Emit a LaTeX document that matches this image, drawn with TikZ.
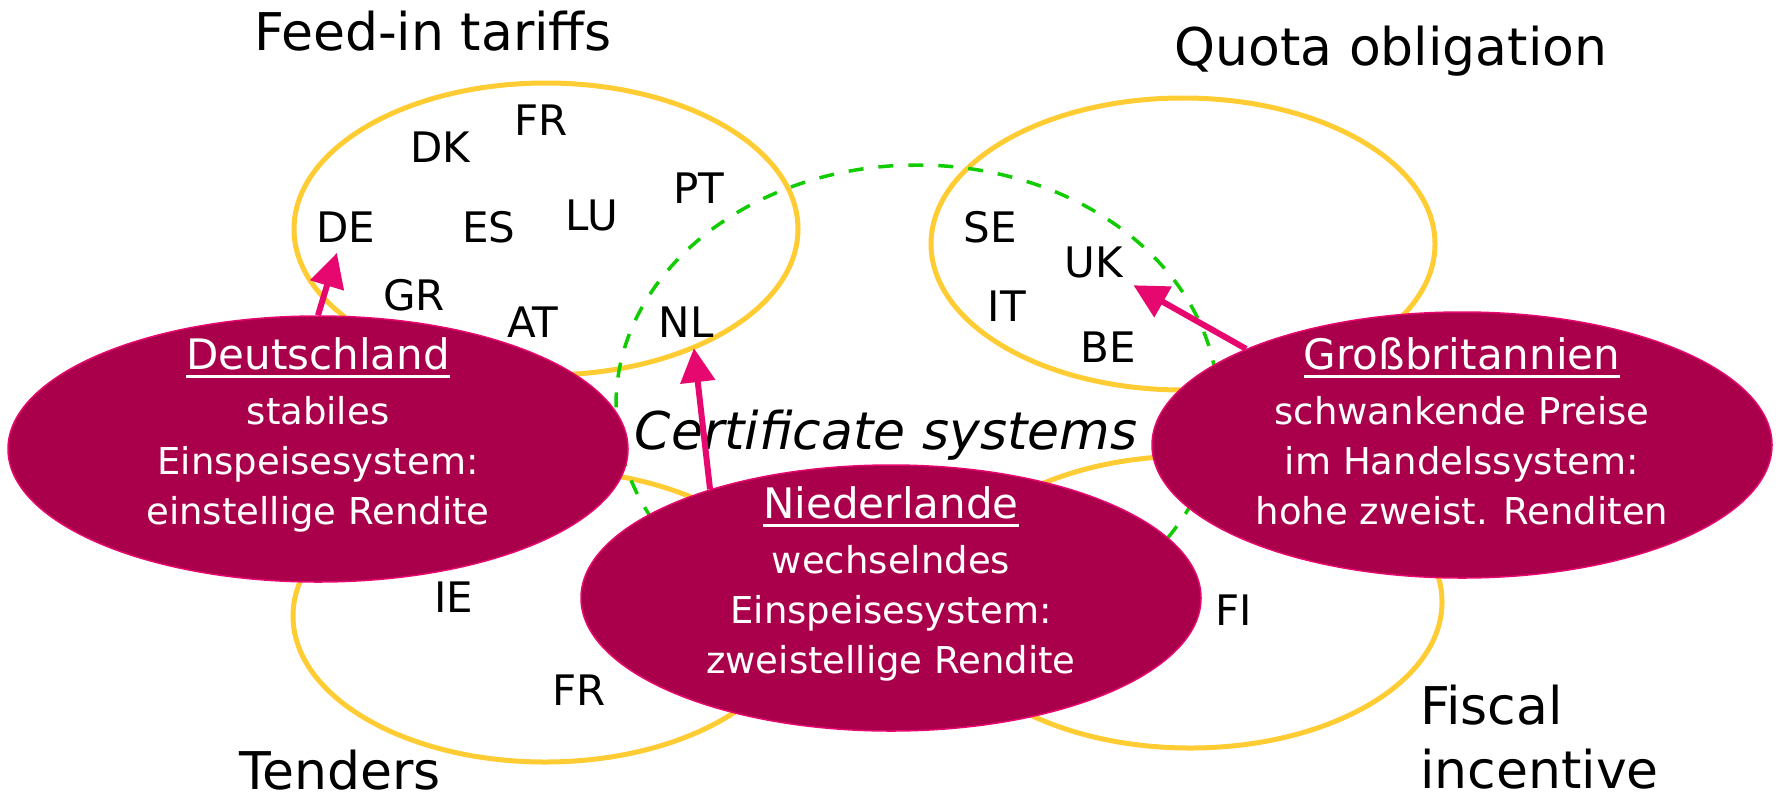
\documentclass[tikz,border=0pt]{standalone}
\usepackage{fontspec}
\setmainfont{DejaVu Sans}
\usetikzlibrary{positioning}
\usetikzlibrary{calc}
\usetikzlibrary{shapes.geometric}
\usetikzlibrary{arrows.meta}
\definecolor{ringyellow}{RGB}{255,204,51}
\definecolor{certgreen}{RGB}{17,204,0}
\definecolor{blobred}{RGB}{170,0,75}
\definecolor{arrowpink}{RGB}{230,8,110}
\newcommand{\blobtitle}[1]{{\fontsize{42}{50}\selectfont\vtop{\hbox{#1}\kern5pt\hrule height 3pt}}}
\tikzset{ring/.style={draw=ringyellow, line width=5pt, ellipse, minimum width=504pt, minimum height=292pt, inner sep=0pt}}
\tikzset{certring/.style={draw=certgreen, line width=3.5pt, dash pattern=on 15pt off 15pt, ellipse, minimum width=602pt, minimum height=480pt, inner sep=0pt}}
\tikzset{cty/.style={font=\fontsize{42}{50}\selectfont, inner sep=4pt, anchor=base}}
\tikzset{cat/.style={font=\fontsize{52}{64}\selectfont, inner sep=0pt, anchor=base}}
\tikzset{blob/.style={draw=arrowpink, line width=1.5pt, fill=blobred, ellipse, minimum width=620pt, minimum height=266pt, inner sep=0pt}}
\tikzset{blobtext/.style={text=white, align=center, font=\fontsize{37}{50}\selectfont, inner sep=0pt}}
\tikzset{>={Triangle[width=34pt,length=34pt]}}
\tikzset{arr/.style={->, draw=arrowpink, line width=6pt, shorten >=7pt}}

\begin{document}
\begin{tikzpicture}[x=1pt,y=-1pt]
\useasboundingbox (0,0) rectangle (1779,796);

\node[ring] (feed) at (546,229) {};
\node[ring] (quota) at (1183,244) {};
\node[ring] (tend) at (545,616) {};
\node[ring] (fisc) at (1190,602) {};
\node[certring] (cert) at (917,405) {};

\node[cat] (Feed) at (433,50) {Feed-in tariffs};
\node[cat] (Quota) at (1391,65) {Quota obligation};
\node[cat] (Tend) at (340,789) {Tenders};
\node[cat, align=left, anchor=south west] (Fisc) at (1420,789) {Fiscal\\incentive};
\node[cat, font=\fontsize{52}{64}\selectfont\itshape] (Cert) at (886,449) {Certificate systems};

\node[cty] (fr) at (541,135) {FR};
\node[cty] (dk) at (440,162) {DK};
\node[cty] (pt) at (699,203) {PT};
\node[cty] (de) at (346,242) {DE};
\node[cty] (es) at (489,242) {ES};
\node[cty] (lu) at (592,230) {LU};
\node[cty] (gr) at (414,310) {GR};
\node[cty] (aut) at (533,337) {AT};
\node[cty] (nl) at (686,337) {NL};

\node[cty] (se) at (990,242) {SE};
\node[cty] (uk) at (1094,277) {UK};
\node[cty] (it) at (1007,321) {IT};
\node[cty] (be) at (1108,362) {BE};

\node[cty] (ie) at (454,612) {IE};
\node[cty] (frt) at (579,705) {FR};
\node[cty] (fi) at (1234,625) {FI};

\node[blob] (deu) at (318,449) {};
\node[blobtext] (deut) at ($(deu)+(0,-14)$) {\blobtitle{Deutschland}\\[5pt]stabiles\\Einspeisesystem:\\einstellige Rendite};

\node[blob] (ned) at (891,598) {};
\node[blobtext] (nedt) at ($(ned)+(0,-14)$) {\blobtitle{Niederlande}\\[5pt]wechselndes\\Einspeisesystem:\\zweistellige Rendite};

\node[blob] (gb) at (1462,445) {};
\node[blobtext] (gbt) at ($(gb)+(0,-14)$) {\blobtitle{Großbritannien}\\[5pt]schwankende Preise\\im Handelssystem:\\hohe zweist. Renditen};

\draw[arr] (deu.north) -- (de.250);
\draw[arr] (ned.149) -- (nl.290);
\draw[arr] (gb.156) -- (uk.south east);

\end{tikzpicture}
\end{document}
